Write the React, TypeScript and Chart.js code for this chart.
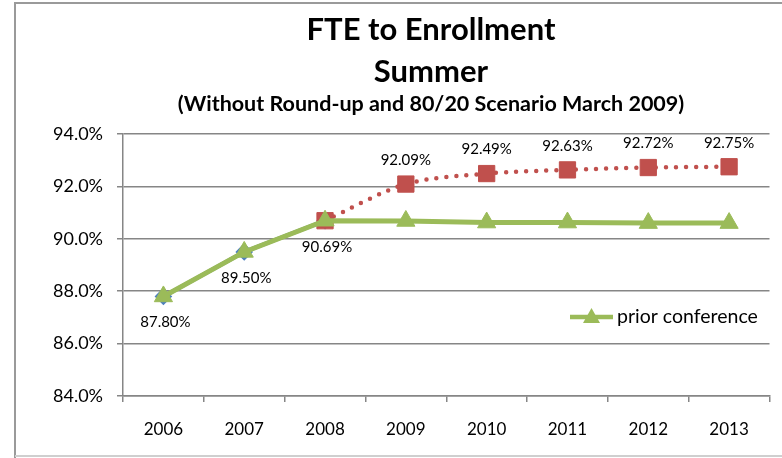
import React, { useEffect, useRef } from "react";
import { Chart, registerables } from "chart.js";

Chart.register(...registerables);

const years = ["2006", "2007", "2008", "2009", "2010", "2011", "2012", "2013"];
const actual: (number | null)[] = [87.8, 89.5, 90.69, null, null, null, null, null];
const projected: (number | null)[] = [null, null, 90.69, 92.09, 92.49, 92.63, 92.72, 92.75];
const priorConference: (number | null)[] = [87.8, 89.5, 90.69, 90.68, 90.62, 90.62, 90.6, 90.6];
const titleLines = ["FTE to Enrollment", "Summer"];
const subtitle = "(Without Round-up and 80/20 Scenario March 2009)";
const legendLabel = "prior conference";

const FONT = "Lato, 'Open Sans', sans-serif";
const GREEN = "#9BBB59";
const RED = "#C0504D";
const BLUE = "#4F81BD";
const GRID = "#868686";

const decorPlugin = {
  id: "decor",
  afterDraw(chart: any) {
    const ctx = chart.ctx;
    ctx.save();
    // frame
    ctx.strokeStyle = "#9a9a9a";
    ctx.lineWidth = 2;
    ctx.beginPath();
    ctx.moveTo(15, 458);
    ctx.lineTo(15, 3);
    ctx.lineTo(782, 3);
    ctx.stroke();
    ctx.strokeStyle = "#cfcfcf";
    ctx.beginPath();
    ctx.moveTo(15, 456);
    ctx.lineTo(782, 456);
    ctx.stroke();
    // titles
    ctx.fillStyle = "#000";
    ctx.textAlign = "center";
    ctx.textBaseline = "middle";
    ctx.font = `bold 31px ${FONT}`;
    ctx.fillText(titleLines[0], 431, 30);
    ctx.fillText(titleLines[1], 431, 72);
    ctx.font = `bold 21.5px ${FONT}`;
    ctx.fillText(subtitle, 431, 104);
    // data labels
    ctx.font = `15px ${FONT}`;
    const mA = chart.getDatasetMeta(2);
    actual.forEach((v, i) => {
      if (v == null) return;
      const p = mA.data[i];
      ctx.fillText(v.toFixed(2) + "%", p.x + 2, p.y + 26);
    });
    const mP = chart.getDatasetMeta(1);
    projected.forEach((v, i) => {
      if (v == null || i < 3) return;
      const p = mP.data[i];
      ctx.fillText(v.toFixed(2) + "%", p.x, p.y - 24);
    });
    // legend
    const ly = 317;
    ctx.strokeStyle = GREEN;
    ctx.lineWidth = 4.5;
    ctx.beginPath();
    ctx.moveTo(570, ly);
    ctx.lineTo(613, ly);
    ctx.stroke();
    ctx.fillStyle = GREEN;
    ctx.beginPath();
    ctx.moveTo(591.5, ly - 9);
    ctx.lineTo(600, ly + 6);
    ctx.lineTo(583, ly + 6);
    ctx.closePath();
    ctx.fill();
    ctx.fillStyle = "#000";
    ctx.textAlign = "left";
    ctx.font = `19.5px ${FONT}`;
    ctx.fillText(legendLabel, 617, ly);
    ctx.restore();
  },
};

export default function App() {
  const ref = useRef<HTMLCanvasElement>(null);
  useEffect(() => {
    const chart = new Chart(ref.current!, {
      type: "line",
      data: {
        labels: years,
        datasets: [
          {
            label: legendLabel,
            data: priorConference,
            borderColor: GREEN,
            backgroundColor: GREEN,
            borderWidth: 5,
            pointStyle: "triangle",
            pointRadius: 10.5,
            pointBorderWidth: 1,
            tension: 0,
          },
          {
            label: "projected",
            data: projected,
            borderColor: RED,
            backgroundColor: RED,
            borderWidth: 4.5,
            borderDash: [0, 10],
            borderCapStyle: "round",
            pointStyle: "rect",
            pointRadius: 11.5,
            pointBorderWidth: 1,
            tension: 0.3,
            spanGaps: false,
          },
          {
            label: "actual",
            data: actual,
            borderColor: BLUE,
            backgroundColor: BLUE,
            borderWidth: 4,
            pointStyle: "rectRot",
            pointRadius: 6,
            tension: 0,
          },
        ],
      },
      options: {
        responsive: false,
        animation: false,
        devicePixelRatio: 1,
        layout: { padding: { left: 15, right: 10, top: 134, bottom: 0 } },
        plugins: {
          legend: { display: false },
          tooltip: { enabled: false },
          title: { display: false },
        },
        scales: {
          x: {
            offset: true,
            afterFit: (s: any) => {
              s.height = 62;
            },
            grid: {
              offset: true,
              drawOnChartArea: false,
              drawTicks: true,
              tickLength: 6,
              color: GRID,
              lineWidth: 1.5,
            },
            border: { display: true, color: GRID, width: 1.5 },
            ticks: {
              color: "#000",
              font: { family: FONT, size: 17 },
              padding: 17,
              maxRotation: 0,
            },
          },
          y: {
            min: 84,
            max: 94,
            afterFit: (s: any) => {
              s.width = 108;
            },
            grid: {
              color: GRID,
              lineWidth: 1.5,
              drawTicks: true,
              tickLength: 6,
            },
            border: { display: true, color: GRID, width: 1.5 },
            ticks: {
              stepSize: 2,
              color: "#000",
              font: { family: FONT, size: 18 },
              padding: 14,
              callback: (v: any) => Number(v).toFixed(1) + "%",
            },
          },
        },
      },
      plugins: [decorPlugin],
    });
    return () => chart.destroy();
  }, []);
  return (
    <div style={{ position: "fixed", left: 0, top: 0, width: 782, height: 458, background: "#fff" }}>
      <canvas ref={ref} width={782} height={458} style={{ display: "block" }} />
    </div>
  );
}
